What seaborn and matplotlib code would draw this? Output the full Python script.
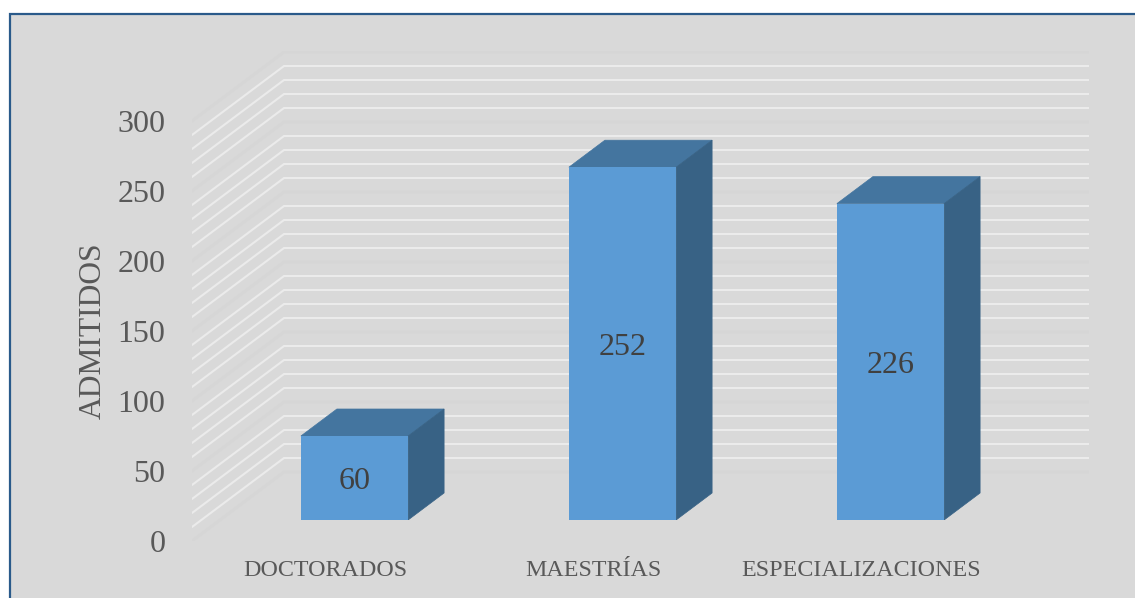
#!/usr/bin/env python3
# -*- coding: utf-8 -*-
import pandas as pd
import seaborn as sns
import matplotlib.pyplot as plt
from matplotlib.patches import Polygon, Rectangle
from matplotlib.transforms import ScaledTranslation

programas = ["DOCTORADOS", "MAESTRÍAS", "ESPECIALIZACIONES"]
admitidos = [60, 252, 226]
ticks_y = [0, 50, 100, 150, 200, 250, 300]
lineas_menores = [v for v in range(10, 300, 10) if v % 50 != 0]

W, H = 1135, 598
DPI = 100
ESCALA = 1.4  # px por admitido

sns.set_theme(style="white")
plt.rcParams["font.family"] = ["Liberation Serif", "DejaVu Serif"]
GRIS = "#595959"

fig = plt.figure(figsize=(W / DPI, H / DPI), dpi=DPI, facecolor="white")
# fondo gris con borde azul, cortado por la derecha y por abajo
fig.add_artist(Rectangle((10 / W, -0.05), 1.1, 1.05 - 14 / H, transform=fig.transFigure,
                         facecolor="#d9d9d9", edgecolor="#2a5a8a", linewidth=1.6, zorder=-1))


def caja(x0, y0, x1, y1):
    """Ejes a partir de pixeles de la imagen."""
    return [x0 / W, 1 - y1 / H, (x1 - x0) / W, (y1 - y0) / H]


# pared y suelo: eje de valores
ax = fig.add_axes(caja(192, 51, 1089, 541), facecolor="none")
prof_x, prof_y = 92, 69 / ESCALA
ax.set_xlim(0, 897)
ax.set_ylim(0, 490 / ESCALA)
for v in ticks_y:
    ax.plot([0, prof_x, 897], [v, v + prof_y, v + prof_y], color="#d6d6d6", lw=2.2, solid_joinstyle="miter", zorder=1)
for v in lineas_menores:
    ax.plot([0, prof_x, 897], [v, v + prof_y, v + prof_y], color="#ebebeb", lw=1.5, solid_joinstyle="miter", zorder=2)
ax.set_xticks([])
ax.set_yticks(ticks_y)
ax.tick_params(axis="y", length=0, pad=19, labelsize=23, labelcolor=GRIS)
ax.set_ylabel("ADMITIDOS", fontsize=22.7, color=GRIS)
ax.yaxis.set_label_coords(-0.094, (541 - 330.5) / 490)
sns.despine(ax=ax, left=True, bottom=True)

# barras
ax_b = fig.add_axes(caja(192, 51, 1089, 520), facecolor="none")
df = pd.DataFrame({"programa": programas, "admitidos": admitidos})
sns.barplot(data=df, x="programa", y="admitidos", color="#5b9bd5", saturation=1, width=0.4,
            linewidth=0, ax=ax_b, zorder=5)
ax_b.set_xlim((192 - 354.5) / 268, (1089 - 354.5) / 268)
ax_b.set_ylim(0, 469 / ESCALA)
ax_b.set_xlabel("")
ax_b.set_ylabel("")
ax_b.set_yticks([])
ax_b.tick_params(axis="x", length=0, pad=29, labelsize=17.3, labelcolor=GRIS)
sns.despine(ax=ax_b, left=True, bottom=True)

# caras superior y lateral de cada barra
dx, dy = 36 / 268, 27 / ESCALA
for barra in list(ax_b.patches):
    x0, x1 = barra.get_x(), barra.get_x() + barra.get_width()
    alto = barra.get_height()
    ax_b.add_patch(Polygon([(x0, alto), (x1, alto), (x1 + dx, alto + dy), (x0 + dx, alto + dy)],
                           facecolor="#44759f", edgecolor="#44759f", lw=0.5, zorder=4))
    ax_b.add_patch(Polygon([(x1, 0), (x1 + dx, dy), (x1 + dx, alto + dy), (x1, alto)],
                           facecolor="#386285", edgecolor="#386285", lw=0.5, zorder=4))

textos = ax_b.bar_label(ax_b.containers[0], label_type="center", fontsize=23, color="#404040", zorder=6)
for t in textos:
    t.xyann = (0, -2.6)

# etiquetas de categoria desplazadas a la izquierda de la barra
desplaza = ScaledTranslation(-29 / DPI, 0, fig.dpi_scale_trans)
for etiqueta in ax_b.get_xticklabels():
    etiqueta.set_transform(etiqueta.get_transform() + desplaza)

fig.savefig("out.png", dpi=DPI, facecolor="white")
